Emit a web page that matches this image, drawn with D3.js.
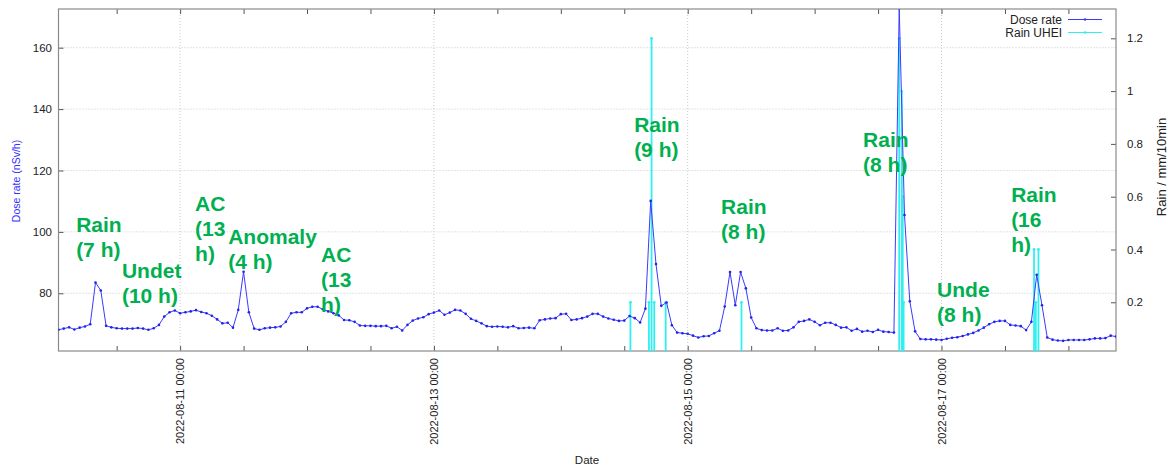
<!DOCTYPE html>
<html>
<head>
<meta charset="utf-8">
<script src="https://cdn.jsdelivr.net/npm/d3@7"></script>
<style>
  body { margin: 0; background: #fff; }
  svg { display: block; font-family: "Liberation Sans", Arial, sans-serif; }
</style>
</head>
<body>
<svg id="chart" width="1169" height="466"></svg>
<script>
// hourly dose rate, first reading 2022-08-10 01:00
var doseStart = "2022-08-10 01:00";
var doseValues = [
  68.1, 68.5, 68.9, 68.2, 68.8, 69.2, 69.9, 83.5, 80.9, 69.4,
  68.9, 68.6, 68.5, 68.5, 68.5, 68.7, 68.5, 68.1, 68.6, 69.7,
  72.4, 73.8, 74.4, 73.5, 73.8, 74.1, 74.5, 73.9, 73.5, 72.7,
  71.5, 70.2, 70.4, 68.8, 74.6, 87.0, 73.8, 68.5, 68.1, 68.6,
  68.8, 68.9, 69.2, 70.7, 73.5, 73.8, 73.8, 75.1, 75.6, 75.6,
  74.8, 74.1, 73.5, 72.8, 71.3, 71.2, 70.7, 69.5, 69.4, 69.4,
  69.3, 69.3, 69.4, 68.6, 69.1, 67.9, 69.7, 71.1, 71.8, 72.2,
  73.2, 73.7, 74.4, 73.0, 73.7, 74.6, 74.4, 73.3, 71.7, 71.0,
  70.2, 69.3, 69.1, 69.2, 69.1, 68.9, 69.3, 68.6, 68.7, 68.8,
  68.6, 71.2, 71.5, 71.8, 71.9, 73.2, 73.3, 71.3, 71.5, 71.9,
  72.4, 73.3, 73.3, 72.4, 71.8, 71.4, 71.0, 71.1, 72.6, 71.9,
  70.5, 75.0, 110.1, 89.5, 75.9, 77.0, 69.6, 67.2, 67.0, 66.8,
  66.2, 65.6, 66.0, 66.1, 67.0, 67.8, 75.7, 86.9, 76.1, 86.9,
  81.6, 72.1, 68.6, 68.0, 67.9, 67.9, 68.6, 67.8, 67.9, 68.9,
  70.7, 71.0, 71.5, 70.7, 69.6, 70.4, 70.4, 69.7, 68.8, 68.9,
  67.8, 68.4, 67.5, 67.8, 67.4, 68.1, 67.5, 67.4, 67.2, 173.0,
  105.5, 77.4, 67.6, 65.1, 65.0, 65.0, 64.9, 64.8, 65.2, 65.5,
  65.7, 66.1, 66.6, 67.1, 67.9, 68.8, 69.9, 70.7, 71.0, 71.0,
  69.7, 69.5, 69.3, 68.0, 70.7, 86.0, 76.1, 65.6, 64.9, 64.6,
  64.5, 64.8, 64.8, 64.8, 64.8, 65.0, 65.3, 65.3, 65.4, 66.2,
  65.9
];

// rain gauge, mm per 10 min (only the non-zero readings)
var rainTimes = [
  "2022-08-14 13:10", "2022-08-14 16:40", "2022-08-14 17:10", "2022-08-14 17:40",
  "2022-08-14 19:50", "2022-08-15 10:10", "2022-08-16 16:00", "2022-08-16 16:30",
  "2022-08-16 16:40", "2022-08-16 16:50", "2022-08-17 17:30", "2022-08-17 17:50",
  "2022-08-17 18:20"
];
var rainValues = [0.2, 0.2, 1.2, 0.2, 0.2, 0.2, 1.2, 1.0, 0.6, 0.2, 0.4, 0.2, 0.4];

// axis ticks
var doseTicks = [80, 100, 120, 140, 160];
var rainTicks = [0.2, 0.4, 0.6, 0.8, 1.0, 1.2];
var rainTickLabels = ["0.2", "0.4", "0.6", "0.8", "1", "1.2"];
var dateTicks = ["2022-08-11 00:00", "2022-08-13 00:00", "2022-08-15 00:00", "2022-08-17 00:00"];

// green notes, anchored at a time and a dose level
var noteLabels = [
  ["Rain", "(7 h)"], ["Undet", "(10 h)"], ["AC", "(13", "h)"], ["Anomaly", "(4 h)"],
  ["AC", "(13", "h)"], ["Rain", "(9 h)"], ["Rain", "(8 h)"], ["Rain", "(8 h)"],
  ["Unde", "(8 h)"], ["Rain", "(16", "h)"]
];
var noteTimes = [
  "2022-08-10 04:20", "2022-08-10 13:00", "2022-08-11 02:50", "2022-08-11 09:05",
  "2022-08-12 02:40", "2022-08-14 13:52", "2022-08-15 06:19", "2022-08-16 09:10",
  "2022-08-16 23:10", "2022-08-17 13:10"
];
var noteLevels = [100.0, 85.0, 106.8, 96.1, 90.2, 132.5, 105.8, 127.7, 78.8, 109.7];

var parseTime = d3.timeParse("%Y-%m-%d %H:%M");

window.onload = function()
{
  drawChart();
}

function drawChart()
{
  var svg = d3.select("#chart");
  var left = 58.5, right = 1116, top = 9, bottom = 351;

  var start = parseTime(doseStart);
  var dose = doseValues.map(function(v, i) {
    return { t: d3.timeHour.offset(start, i), v: v };
  });
  var rain = rainTimes.map(function(t, i) {
    return { t: parseTime(t), v: rainValues[i] };
  });

  var x = d3.scaleTime()
    .domain(d3.extent(dose, function(d) { return d.t; }))
    .range([left, right]);
  var y = d3.scaleLinear().domain([61.2, 172.6]).range([bottom, top]);
  var y2 = d3.scaleLinear().domain([0.0155, 1.311]).range([bottom, top]);

  svg.append("defs").append("clipPath").attr("id", "plotClip")
    .append("rect")
    .attr("x", left).attr("y", top)
    .attr("width", right - left).attr("height", bottom - top);

  // grid (dotted)
  var grid = svg.append("g")
    .attr("stroke", "#c8c8c8")
    .attr("stroke-dasharray", "1,2")
    .attr("stroke-width", 1);
  grid.selectAll(".gy").data(doseTicks).enter().append("line")
    .attr("x1", left).attr("x2", right)
    .attr("y1", function(d) { return y(d); })
    .attr("y2", function(d) { return y(d); });
  grid.selectAll(".gx").data(dateTicks).enter().append("line")
    .attr("x1", function(d) { return x(parseTime(d)); })
    .attr("x2", function(d) { return x(parseTime(d)); })
    .attr("y1", top).attr("y2", bottom);

  // x axis, ticks every 12 h, labels every 2 days
  var minorTicks = d3.timeHour.every(12).range(x.domain()[0], x.domain()[1]);
  var xBottom = d3.axisBottom(x)
    .tickValues(minorTicks)
    .tickSizeInner(-5).tickSizeOuter(0)
    .tickFormat("");
  var xTop = d3.axisTop(x)
    .tickValues(minorTicks)
    .tickSizeInner(-5).tickSizeOuter(0)
    .tickFormat("");
  svg.append("g").attr("transform", "translate(0," + bottom + ")").call(xBottom);
  svg.append("g").attr("transform", "translate(0," + top + ")").call(xTop);

  var yLeft = d3.axisLeft(y).tickValues(doseTicks).tickSizeInner(-5).tickSizeOuter(0).tickFormat("");
  svg.append("g").attr("transform", "translate(" + left + ",0)").call(yLeft);
  var yRight = d3.axisRight(y2).tickValues(rainTicks).tickSizeInner(-5).tickSizeOuter(0).tickFormat("");
  svg.append("g").attr("transform", "translate(" + right + ",0)").call(yRight);

  svg.selectAll(".domain").remove();
  svg.selectAll(".tick line").attr("stroke", "#555");

  // frame
  svg.append("rect")
    .attr("x", left).attr("y", top)
    .attr("width", right - left).attr("height", bottom - top)
    .attr("fill", "none").attr("stroke", "#8a8a8a").attr("stroke-width", 1.2);

  // tick labels
  svg.append("g").selectAll("text").data(doseTicks).enter().append("text")
    .attr("x", 52).attr("y", function(d) { return y(d); })
    .attr("dy", "0.35em").attr("text-anchor", "end")
    .attr("font-size", 11.5).attr("fill", "#222")
    .text(function(d) { return d; });

  svg.append("g").selectAll("text").data(rainTicks).enter().append("text")
    .attr("x", 1127).attr("y", function(d) { return y2(d); })
    .attr("dy", "0.35em").attr("text-anchor", "start")
    .attr("font-size", 11.5).attr("fill", "#222")
    .text(function(d, i) { return rainTickLabels[i]; });

  svg.append("g").selectAll("text").data(dateTicks).enter().append("text")
    .attr("transform", function(d) {
      return "translate(" + (x(parseTime(d)) + 4) + ",358) rotate(-90)";
    })
    .attr("text-anchor", "end")
    .attr("font-size", 11).attr("fill", "#222")
    .text(function(d) { return d; });

  // axis titles
  svg.append("text")
    .attr("transform", "translate(20,181) rotate(-90)")
    .attr("text-anchor", "middle")
    .attr("font-size", 10.5).attr("fill", "#3333ff")
    .text("Dose rate (nSv/h)");
  svg.append("text")
    .attr("transform", "translate(1166,167) rotate(-90)")
    .attr("text-anchor", "middle")
    .attr("font-size", 13).attr("fill", "#222")
    .text("Rain / mm/10min");
  svg.append("text")
    .attr("x", 587).attr("y", 464)
    .attr("text-anchor", "middle")
    .attr("font-size", 11.5).attr("fill", "#222")
    .text("Date");

  var plot = svg.append("g").attr("clip-path", "url(#plotClip)");

  // rain impulses
  plot.selectAll(".rain").data(rain).enter().append("line")
    .attr("x1", function(d) { return x(d.t); })
    .attr("x2", function(d) { return x(d.t); })
    .attr("y1", y2(0)).attr("y2", function(d) { return y2(d.v); })
    .attr("stroke", "#2ef0f0").attr("stroke-width", 1.8);
  plot.selectAll(".rainpt").data(rain).enter().append("circle")
    .attr("cx", function(d) { return x(d.t); })
    .attr("cy", function(d) { return y2(d.v); })
    .attr("r", 1.4).attr("fill", "#2ef0f0");

  // dose rate line with points
  var line = d3.line()
    .x(function(d) { return x(d.t); })
    .y(function(d) { return y(d.v); });
  plot.append("path").datum(dose)
    .attr("d", line)
    .attr("fill", "none").attr("stroke", "#3a3aff").attr("stroke-width", 1);
  plot.selectAll(".dosept").data(dose).enter().append("circle")
    .attr("cx", function(d) { return x(d.t); })
    .attr("cy", function(d) { return y(d.v); })
    .attr("r", 1.3).attr("fill", "#2222ee");

  // legend
  var legend = svg.append("g");
  var legendItems = [["Dose rate", "#3a3aff", 19.5], ["Rain UHEI", "#2ef0f0", 32.5]];
  legendItems.forEach(function(item) {
    legend.append("text")
      .attr("x", 1062).attr("y", item[2]).attr("dy", "0.35em")
      .attr("text-anchor", "end").attr("font-size", 12).attr("fill", "#222")
      .text(item[0]);
    legend.append("line")
      .attr("x1", 1068).attr("x2", 1102).attr("y1", item[2]).attr("y2", item[2])
      .attr("stroke", item[1]).attr("stroke-width", 1.2);
    legend.append("circle")
      .attr("cx", 1085).attr("cy", item[2]).attr("r", 1.3).attr("fill", item[1]);
  });

  // annotations
  var notes = svg.append("g")
    .attr("font-size", 21).attr("font-weight", "bold").attr("fill", "#00b050");
  noteLabels.forEach(function(lines, i) {
    var t = notes.append("text")
      .attr("x", x(parseTime(noteTimes[i])))
      .attr("y", y(noteLevels[i]));
    lines.forEach(function(s, j) {
      t.append("tspan")
        .attr("x", x(parseTime(noteTimes[i])))
        .attr("dy", j == 0 ? 0 : 25)
        .text(s);
    });
  });
}
</script>
</body>
</html>
